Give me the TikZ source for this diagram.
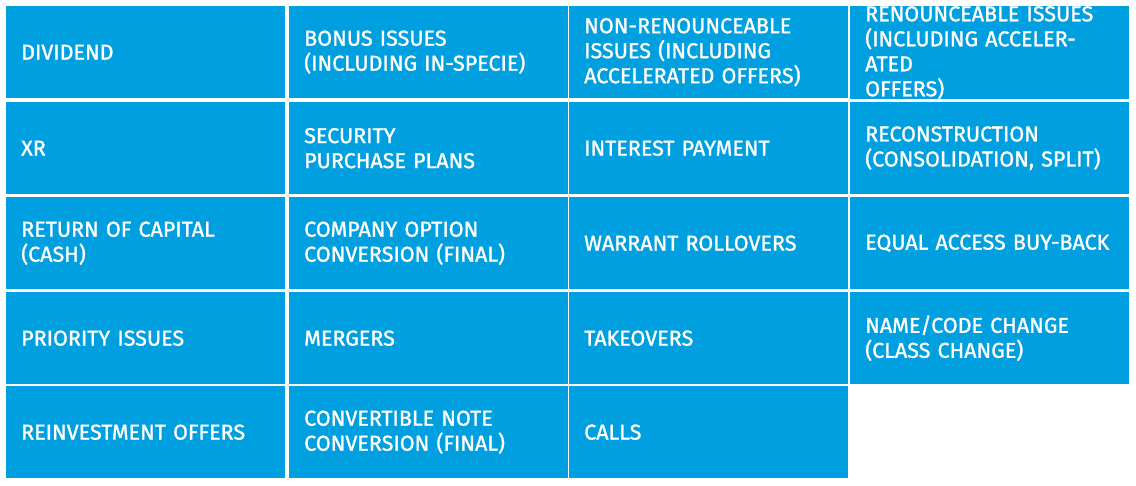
\documentclass[tikz,border=0pt]{standalone}
\usepackage{fontspec}
\setmainfont{Fira Sans}[RawFeature={embolden=1.3}]
\definecolor{cellblue}{HTML}{009FDF}
\begin{document}
\begin{tikzpicture}[x=1pt,y=-1pt,
  cell/.style={fill=cellblue, text=white, anchor=north west, inner xsep=15pt, inner ysep=0pt,
    minimum height=92pt, text width=249pt, align=left, font=\fontsize{21.5}{25}\selectfont}]
\useasboundingbox (0,0) rectangle (1136,486);
\node[cell] (a1) at (6,6) {DIVIDEND};
\node[cell] (a2) at (289,6) {BONUS ISSUES\\(INCLUDING IN-SPECIE)};
\node[cell] (a3) at (569,6) {NON-RENOUNCEABLE\\ISSUES (INCLUDING\\ACCELERATED OFFERS)};
\node[cell] (a4) at (850,6) {RENOUNCEABLE ISSUES\\(INCLUDING ACCELERATED\\OFFERS)};
\node[cell] (b1) at (6,102) {XR};
\node[cell] (b2) at (289,102) {SECURITY\\PURCHASE PLANS};
\node[cell] (b3) at (569,102) {INTEREST PAYMENT};
\node[cell] (b4) at (850,102) {RECONSTRUCTION\\(CONSOLIDATION, SPLIT)};
\node[cell] (c1) at (6,197) {RETURN OF CAPITAL\\(CASH)};
\node[cell] (c2) at (289,197) {COMPANY OPTION\\CONVERSION (FINAL)};
\node[cell] (c3) at (569,197) {WARRANT ROLLOVERS};
\node[cell] (c4) at (850,197) {EQUAL ACCESS BUY-BACK};
\node[cell] (d1) at (6,292) {PRIORITY ISSUES};
\node[cell] (d2) at (289,292) {MERGERS};
\node[cell] (d3) at (569,292) {TAKEOVERS};
\node[cell] (d4) at (850,292) {NAME/CODE CHANGE\\(CLASS CHANGE)};
\node[cell] (e1) at (6,386) {REINVESTMENT OFFERS};
\node[cell] (e2) at (289,386) {CONVERTIBLE NOTE\\CONVERSION (FINAL)};
\node[cell] (e3) at (569,386) {CALLS};
\end{tikzpicture}
\end{document}
